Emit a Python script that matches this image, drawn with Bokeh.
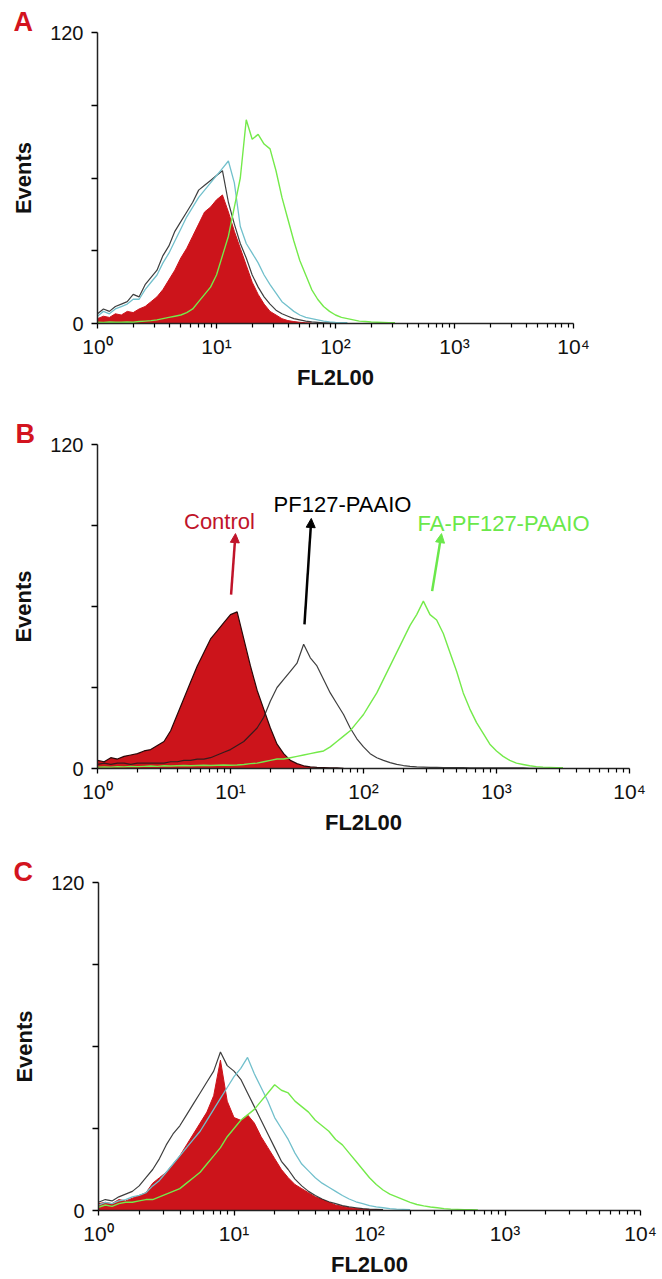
from bokeh.plotting import figure
from bokeh.models import FixedTicker, Range1d, Label, Arrow, NormalHead
from bokeh.embed import file_html
from bokeh.resources import INLINE

FONT = "Liberation Sans"
STEP = 0.05  # width of one histogram bin, in decades of FL2L00

# ---------------- data (events per bin, bins start at 10^0) ----------------
A_control = [2, 3, 2.5, 4, 3.5, 5, 4.5, 6, 7, 9, 11, 14, 18, 22, 27, 31, 36, 41, 46, 48,
             51, 53, 46, 38, 31, 24, 17, 12, 8, 5, 3.5, 2, 1.2, 0.8, 0.5, 0.3, 0.2]
A_black = [4, 6, 5, 7, 8, 9, 12, 11, 16, 19, 22, 28, 32, 38, 42, 46, 50, 55, 57, 59,
           61, 63, 50, 41, 33, 27, 20, 15, 11, 8, 5.5, 4, 3, 2, 1.5, 1, 0.7, 0.5, 0.3, 0.3, 0.2]
A_cyan = [3, 5, 4, 6, 7, 8, 10, 10, 14, 17, 20, 25, 29, 34, 39, 44, 48, 52, 55, 58,
          61, 64, 67, 58, 40, 33, 29, 25, 20, 16, 12.5, 9, 7, 5, 3.5, 2.5, 2, 1.5, 1, 0.7,
          0.5, 0.4, 0.3]
A_green = [0.5, 0.4, 0.6, 0.5, 0.5, 0.6, 0.5, 0.8, 1, 1.2, 1.5, 2, 2.5, 3, 3.5, 4.5, 6, 9,
           12, 15, 20, 28, 36, 48, 60, 84, 76, 78, 74, 72, 63, 52, 43, 34, 26, 20, 14, 10,
           7, 5, 3.5, 2.5, 2, 1.5, 1, 0.8, 0.6, 0.5, 0.4, 0.3, 0.3]

B_control = [3, 2.5, 4, 3.5, 4.5, 5, 5.5, 6.5, 7, 8.5, 10, 14, 20, 26, 32, 38, 43, 48, 51, 54,
             57, 58, 48, 38, 29, 22, 15, 9, 5.5, 3, 1.8, 1, 0.6, 0.4, 0.3, 0.2, 0.2, 0.1]
B_pf127 = [1.5, 2, 1.5, 2, 2, 1.5, 2, 2, 2, 2, 2, 2.5, 2.5, 3, 3, 3.5, 3.5, 4, 5, 6,
           7, 8.5, 10, 12.5, 15, 19, 25, 30, 33, 36, 39, 46, 41, 38, 33, 28, 24, 20, 15, 11,
           8, 5.5, 4, 3, 2.2, 1.5, 1.1, 0.8, 0.6, 0.5, 0.4, 0.4, 0.3, 0.3, 0.3, 0.3, 0.2, 0.2,
           0.2, 0.2, 0.2, 0.2, 0.2, 0.2, 0.2, 0.1, 0.1, 0.1, 0.1, 0.1, 0.1]
B_fa = [0.5, 0.6, 0.5, 0.7, 0.6, 0.8, 0.7, 0.8, 0.9, 0.8, 1, 0.9, 1, 1.1, 1, 1.1, 1.2, 1.1,
        1.2, 1.3, 1.2, 1.3, 1.5, 1.8, 2, 2.5, 3, 3.5, 3.5, 4, 4.5, 5, 5.5, 6, 6.5, 8, 10, 12,
        14, 17, 20, 24, 28, 33, 38, 43, 48, 53, 57, 62, 57, 55, 50, 43, 36, 28, 22, 17, 13,
        9, 6.5, 4.5, 3, 2, 1.5, 1, 0.7, 0.5, 0.4, 0.3, 0.3]

C_control = [2.5, 3, 2.5, 4, 3.5, 4.5, 5.5, 6.5, 10, 12, 14, 17, 20, 24, 28, 32, 36, 42, 55,
             40, 34, 33, 35, 32, 27, 23, 19, 15, 12, 9.5, 8, 6.5, 5, 4, 3, 2, 1.5, 1, 0.7,
             0.5, 0.3, 0.2, 0.2]
C_black = [3, 4, 3.5, 5, 6, 7, 9, 12, 15, 19, 24, 28, 31, 35, 39, 43, 47, 51, 58, 53, 51,
           48, 43, 38, 33, 28, 23, 18, 15, 11.5, 9, 7, 5.5, 4.2, 3.2, 2.5, 1.8, 1.3, 1, 0.7,
           0.5, 0.4, 0.3]
C_cyan = [2, 3, 2.5, 3.5, 4, 5, 5.5, 6.5, 9, 11, 14, 17, 20, 23, 26, 29, 33, 37, 41, 45,
          49, 52, 56, 50, 45, 40, 34, 30, 26, 21, 17, 14.5, 12, 10, 8.5, 7, 5.5, 4.2, 3.2,
          2.5, 1.8, 1.3, 1, 0.7, 0.5, 0.4, 0.3]
C_green = [1.2, 2, 1.5, 2.5, 3, 3, 3.5, 4, 4, 5, 6, 7, 8, 10, 12, 14, 17, 20, 23, 27, 30,
           33, 35, 37, 40, 43, 46, 44, 43, 40, 38, 36, 33, 31, 29, 26, 24, 21, 18, 15, 12,
           9.5, 7.5, 6, 5, 4, 3, 2.2, 1.7, 1.3, 1, 0.7, 0.5, 0.4, 0.3, 0.3, 0.2]

X_TICKS = [1, 10, 100, 1000, 10000]
X_TICK_LABELS = ["10⁰", "10¹", "10²", "10³", "10⁴"]
Y_TICKS = [0, 30, 60, 90, 120]
Y_TICK_LABELS = ["0", "", "", "", "120"]

B_NAMES = ["Control", "PF127-PAAIO", "FA-PF127-PAAIO"]
B_NAME_X = [8.26, 69.5, 1130.0]
B_NAME_Y = [91.5, 97.8, 90.7]
B_ARROW_X0 = [10.1, 36.0, 328.0]
B_ARROW_Y0 = [64.4, 53.4, 65.7]
B_ARROW_X1 = [10.9, 40.5, 386.0]
B_ARROW_Y1 = [87.0, 92.6, 87.0]

RED = "#cc141b"
BLACK = "#1c1c1c"
CYAN = "#72c0cc"
GREEN = "#74ea4a"
LETTER_RED = "#d3141f"
B_COLORS = ["#c0142a", "#000000", "#6ae84a"]


def xs(vals):
    return [10 ** (i * STEP) for i in range(len(vals))]


def panel(letter, height, left, right, top, bottom, letter_offset):
    p = figure(width=662, height=height, x_axis_type="log",
               x_range=Range1d(1, 10000), y_range=Range1d(0, 120),
               output_backend="svg", toolbar_location=None,
               min_border_left=left, min_border_right=right,
               min_border_top=top, min_border_bottom=bottom)
    p.outline_line_color = None
    p.xgrid.visible = False
    p.ygrid.visible = False
    p.background_fill_color = "white"
    p.border_fill_color = "white"

    p.title.text = letter
    p.title.align = "left"
    p.title.offset = letter_offset
    p.title.standoff = -8
    p.title.text_font = FONT
    p.title.text_font_style = "bold"
    p.title.text_font_size = "27px"
    p.title.text_color = LETTER_RED

    xa = p.xaxis[0]
    xa.ticker = FixedTicker(ticks=X_TICKS,
                            minor_ticks=[m * 10 ** k for k in range(4) for m in range(2, 10)])
    xa.major_label_overrides = dict(zip(X_TICKS, X_TICK_LABELS))
    xa.axis_line_width = 1.5
    xa.axis_line_color = "#222222"
    xa.major_tick_out = 5
    xa.major_tick_in = 0
    xa.minor_tick_out = 4
    xa.minor_tick_in = 0
    xa.major_tick_line_width = 1.3
    xa.minor_tick_line_width = 1.2
    xa.major_label_standoff = 6
    xa.major_label_text_font = FONT
    xa.major_label_text_font_size = "21px"
    xa.major_label_text_color = "#111111"
    xa.axis_label = "FL2L00"
    xa.axis_label_text_font = FONT
    xa.axis_label_text_font_style = "bold"
    xa.axis_label_text_font_size = "22px"
    xa.axis_label_text_color = "#111111"
    xa.axis_label_standoff = 4

    ya = p.yaxis[0]
    ya.ticker = FixedTicker(ticks=Y_TICKS)
    ya.major_label_overrides = dict(zip(Y_TICKS, Y_TICK_LABELS))
    ya.axis_line_width = 1.5
    ya.axis_line_color = "#222222"
    ya.major_tick_out = 6
    ya.major_tick_in = 0
    ya.minor_tick_out = 0
    ya.minor_tick_in = 0
    ya.major_tick_line_width = 1.3
    ya.major_label_standoff = 8
    ya.major_label_text_font = FONT
    ya.major_label_text_font_size = "20px"
    ya.major_label_text_color = "#111111"
    ya.axis_label = "Events"
    ya.axis_label_text_font = FONT
    ya.axis_label_text_font_style = "bold"
    ya.axis_label_text_font_size = "22px"
    ya.axis_label_text_color = "#111111"
    ya.axis_label_standoff = 11
    return p


# ---------------- panel A ----------------
pa = panel("A", 412, 97, 89, 32, 89, -84)
pa.varea(x=xs(A_control), y1=0, y2=A_control, fill_color=RED)
pa.line(xs(A_control), A_control, line_color=RED, line_width=1)
pa.line(xs(A_black), A_black, line_color=BLACK, line_width=1.2, line_alpha=0.85)
pa.line(xs(A_cyan), A_cyan, line_color=CYAN, line_width=1.3)
pa.line(xs(A_green), A_green, line_color=GREEN, line_width=1.4)

# ---------------- panel B ----------------
pb = panel("B", 428, 97, 33, 32, 72, -82)
pb.varea(x=xs(B_control), y1=0, y2=B_control, fill_color=RED)
pb.line(xs(B_control), B_control, line_color="#2a0808", line_width=1.2)
pb.line(xs(B_pf127), B_pf127, line_color=BLACK, line_width=1.2, line_alpha=0.85)
pb.line(xs(B_fa), B_fa, line_color=GREEN, line_width=1.4)
for name, tx, ty, x0, y0, x1, y1, col in zip(B_NAMES, B_NAME_X, B_NAME_Y, B_ARROW_X0,
                                             B_ARROW_Y0, B_ARROW_X1, B_ARROW_Y1, B_COLORS):
    pb.add_layout(Label(x=tx, y=ty, text=name, text_font=FONT, text_font_size="22px",
                        text_color=col, text_align="center", text_baseline="middle"))
    pb.add_layout(Arrow(x_start=x0, y_start=y0, x_end=x1, y_end=y1, line_color=col,
                        line_width=2.5,
                        end=NormalHead(size=9, fill_color=col, line_color=col)))

# ---------------- panel C ----------------
pc = panel("C", 439, 98, 22, 42, 66, -85)
pc.varea(x=xs(C_control), y1=0, y2=C_control, fill_color=RED)
pc.line(xs(C_control), C_control, line_color=RED, line_width=1)
pc.line(xs(C_black), C_black, line_color=BLACK, line_width=1.2, line_alpha=0.85)
pc.line(xs(C_cyan), C_cyan, line_color=CYAN, line_width=1.3)
pc.line(xs(C_green), C_green, line_color=GREEN, line_width=1.4)

# three independent roots stacked vertically (keeps each panel's own frame width)
open("out.html", "w").write(file_html([pa, pb, pc], INLINE))
